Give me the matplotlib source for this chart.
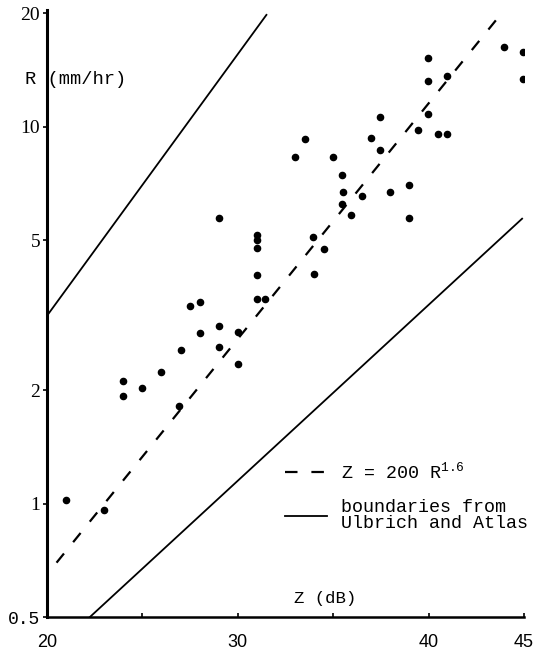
import numpy as np
import matplotlib.pyplot as plt
from matplotlib.lines import Line2D

plt.rcParams['lines.scale_dashes'] = False
plt.rcParams['mathtext.fontset'] = 'custom'
plt.rcParams['mathtext.rm'] = 'Liberation Mono'
plt.rcParams['mathtext.it'] = 'Liberation Mono'

# Measured radar reflectivity (dB) vs. rain rate (mm/hr)
z_db = [21.0, 23.0, 24.0, 24.0, 25.0, 26.0, 26.9, 27.0, 27.5, 28.0,
        28.0, 29.0, 29.0, 29.0, 30.0, 30.0, 31.0, 31.0, 31.0, 31.0,
        31.0, 31.45, 33.0, 33.5, 33.95, 34.0, 34.5, 35.0, 35.45, 35.5,
        35.45, 35.95, 36.5, 37.0, 37.45, 37.45, 38.0, 38.95, 38.95, 39.45,
        39.95, 39.95, 39.95, 40.5, 40.95, 40.95, 43.95, 44.95, 44.95]
rain = [1.02, 0.96, 2.11, 1.93, 2.03, 2.23, 1.81, 2.56, 3.35, 3.43,
        2.84, 2.95, 2.61, 5.71, 2.85, 2.35, 5.17, 4.99, 4.77, 4.03,
        3.50, 3.50, 8.33, 9.29, 5.09, 4.06, 4.75, 8.32, 7.46, 6.72,
        6.25, 5.84, 6.56, 9.31, 10.6, 8.67, 6.70, 7.00, 5.74, 9.78,
        15.2, 13.2, 10.8, 9.59, 9.54, 13.6, 16.3, 15.8, 13.4]

# Z = a R^b relation
zr_a = 200
zr_b = 1.6
zr_db = np.array([20.5, 43.8])
zr_rain = 10 ** ((zr_db - 10 * np.log10(zr_a)) / (10 * zr_b))

# Ulbrich and Atlas boundaries
upper_db = [20.0, 31.5]
upper_rain = [3.15, 19.8]
lower_db = [22.25, 44.9]
lower_rain = [0.5, 5.7]

x_ticks = [20, 25, 30, 35, 40, 45]
x_labels = ['20', '', '30', '', '40', '45']
y_ticks = [0.5, 1, 2, 5, 10, 20]
y_labels = ['0.5', '1', '2', '5', '10', '20']

mono = 'Liberation Mono'
serif = 'Liberation Serif'

fig = plt.figure(figsize=(5.37, 6.51), dpi=100)
ax = fig.add_axes([47 / 537, 34 / 651, 477 / 537, 607 / 651])

ax.plot(upper_db, upper_rain, color='black', lw=1.3)
ax.plot(lower_db, lower_rain, color='black', lw=1.3)
ax.plot(zr_db, zr_rain, color='black', lw=1.6, dashes=(8.5, 10.5))
ax.scatter(z_db, rain, s=20, color='black', zorder=3)

ax.set_yscale('log')
ax.set_xlim(20, 45)
ax.set_ylim(0.5, 20.4)

ax.spines['top'].set_visible(False)
ax.spines['right'].set_visible(False)
ax.spines['left'].set_linewidth(2.2)
ax.spines['bottom'].set_linewidth(1.8)

ax.set_xticks(x_ticks)
ax.set_xticklabels(x_labels, fontfamily='Liberation Sans', fontsize=13)
ax.tick_params(axis='x', direction='in', length=3, width=1.2, pad=12)
ax.yaxis.set_minor_locator(plt.NullLocator())
ax.set_yticks(y_ticks)
ax.set_yticklabels(y_labels, fontsize=14)
for lab in ax.get_yticklabels():
    if lab.get_text() == '0.5':
        lab.set_fontfamily(mono)
        lab.set_fontsize(13)
    else:
        lab.set_fontfamily(serif)
ax.tick_params(axis='y', direction='out', length=3, width=1.2, pad=2)

ax.text(-22 / 477, 1 - 70 / 607, 'R (mm/hr)', transform=ax.transAxes,
        fontfamily=mono, fontsize=13.5, va='center', ha='left')
ax.text(278 / 477, 18 / 607, 'Z (dB)', transform=ax.transAxes,
        fontfamily=mono, fontsize=12.5, va='center', ha='center')

handles = [Line2D([], [], color='black', lw=1.6, dashes=(9, 10)),
           Line2D([], [], color='black', lw=1.3)]
labels = ['Z = 200 R$^{1.6}$', 'boundaries from\nUlbrich and Atlas']
leg = ax.legend(handles, labels, loc='upper left',
                bbox_to_anchor=(238 / 477, 1 - 452 / 607),
                frameon=False, prop={'family': mono, 'size': 13.2},
                handlelength=2.3, handletextpad=0.75, borderpad=0,
                borderaxespad=0, labelspacing=0.9)
for t in leg.get_texts():
    t.set_linespacing(0.95)

fig.savefig('out.png', dpi=100)
